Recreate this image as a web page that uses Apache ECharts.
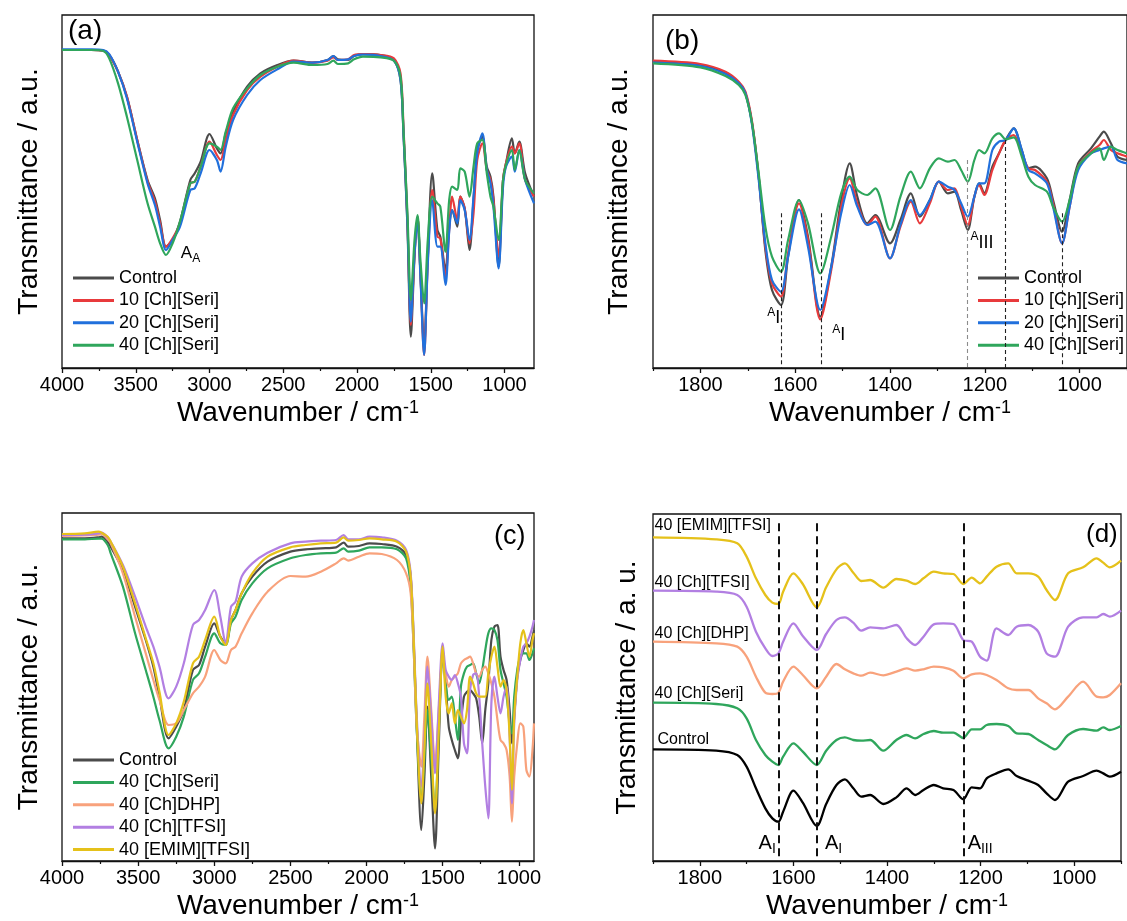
<!DOCTYPE html>
<html>
<head>
<meta charset="utf-8">
<title>FTIR spectra</title>
<script src="https://cdn.jsdelivr.net/npm/echarts@6/dist/echarts.min.js"></script>
<style>
  html, body { margin: 0; padding: 0; background: #fff; }
  #chart { width: 1127px; height: 921px; }
</style>
</head>
<body>
<div id="chart"></div>
<script>
// ---------- (a) full range, [Ch][Seri] loadings ----------
const waveA = [4000, 3800, 3720, 3680, 3620, 3560, 3490, 3420, 3370, 3335, 3295, 3250, 3200, 3130, 3100, 3060, 3000, 2950, 2925, 2890, 2840, 2745, 2655, 2540, 2430, 2300, 2200, 2160, 2130, 2060, 2020, 1960, 1840, 1750, 1705, 1685, 1658, 1635, 1610, 1590, 1570, 1545, 1520, 1490, 1455, 1435, 1400, 1375, 1355, 1320, 1300, 1270, 1237, 1210, 1185, 1150, 1120, 1095, 1075, 1040, 1010, 990, 950, 930, 900, 860, 800];
const aControl = [954, 954, 952, 939, 889, 814, 684, 564, 509, 444, 364, 384, 439, 564, 584, 619, 702, 659, 644, 704, 769, 844, 884, 909, 922, 916, 924, 936, 926, 924, 936, 942, 939, 924, 864, 704, 424, 94, 334, 454, 284, 64, 334, 584, 414, 394, 294, 424, 474, 424, 514, 479, 354, 504, 654, 694, 604, 574, 514, 304, 564, 614, 689, 644, 679, 584, 514];
const aSeri10 = [954, 954, 952, 939, 889, 814, 684, 559, 499, 434, 364, 389, 434, 554, 559, 604, 679, 639, 624, 684, 759, 834, 874, 904, 922, 916, 922, 932, 924, 926, 939, 942, 939, 929, 884, 724, 444, 129, 344, 454, 284, 39, 324, 534, 394, 389, 274, 414, 514, 444, 514, 479, 374, 464, 624, 674, 594, 564, 504, 334, 564, 614, 664, 644, 674, 564, 514];
const aSeri20 = [956, 956, 954, 942, 889, 809, 679, 554, 489, 424, 354, 384, 424, 534, 539, 584, 654, 624, 589, 664, 744, 819, 864, 896, 919, 916, 924, 936, 924, 926, 936, 940, 936, 922, 864, 704, 434, 139, 344, 444, 274, 39, 314, 504, 364, 364, 249, 409, 474, 434, 504, 474, 384, 514, 644, 704, 594, 554, 484, 299, 544, 604, 634, 589, 654, 564, 494];
const aSeri40 = [954, 954, 951, 929, 854, 754, 624, 494, 424, 374, 339, 374, 439, 554, 559, 604, 674, 664, 654, 709, 779, 839, 879, 904, 916, 909, 912, 922, 912, 914, 926, 934, 932, 922, 874, 714, 464, 204, 384, 459, 324, 194, 384, 514, 494, 484, 349, 504, 544, 534, 599, 589, 514, 604, 674, 684, 584, 514, 484, 384, 564, 609, 654, 594, 654, 564, 524];

// ---------- (b) amide region, [Ch][Seri] loadings ----------
const waveB = [1900, 1800, 1747, 1719, 1705, 1691, 1677, 1663, 1649, 1630, 1615, 1592, 1573, 1547, 1524, 1503, 1485, 1469, 1448, 1431, 1400, 1378, 1356, 1337, 1316, 1297, 1278, 1264, 1250, 1236, 1222, 1212, 1201, 1184, 1170, 1156, 1139, 1122, 1108, 1094, 1069, 1056, 1037, 1021, 1003, 976, 958, 949, 934, 920, 900];
const bControl = [919, 909, 884, 854, 824, 734, 574, 354, 234, 189, 334, 504, 394, 154, 304, 504, 614, 514, 434, 459, 374, 444, 524, 454, 504, 559, 524, 529, 474, 414, 514, 554, 524, 604, 644, 684, 719, 654, 599, 604, 569, 504, 409, 504, 614, 659, 694, 709, 674, 634, 624];
const bSeri10 = [922, 912, 889, 859, 829, 739, 574, 364, 254, 214, 344, 494, 384, 146, 294, 484, 569, 494, 429, 454, 329, 424, 499, 434, 494, 559, 534, 539, 484, 429, 514, 549, 519, 594, 644, 684, 699, 644, 599, 594, 559, 494, 374, 484, 604, 649, 669, 684, 654, 644, 634];
const bSeri20 = [916, 906, 882, 854, 824, 729, 564, 374, 264, 229, 334, 476, 364, 174, 304, 464, 549, 484, 429, 439, 329, 429, 504, 459, 504, 559, 544, 534, 494, 454, 514, 554, 554, 654, 679, 684, 719, 654, 594, 584, 554, 484, 374, 484, 594, 644, 654, 659, 664, 624, 614];
const bSeri40 = [914, 902, 876, 849, 819, 734, 584, 424, 334, 289, 384, 504, 434, 284, 394, 524, 574, 534, 519, 539, 414, 514, 589, 539, 599, 629, 619, 624, 594, 559, 624, 654, 644, 689, 704, 686, 692, 634, 574, 549, 529, 484, 439, 504, 604, 644, 659, 624, 664, 654, 644];
// band guides: wavenumber and the level each dashed guide starts from
const bBandWave = [1630, 1545, 1236, 1156, 1037];
const bBandTop = [464, 464, 624, 684, 464];

// ---------- (c) full range, different ionic liquids ----------
const waveC = [4000, 3850, 3760, 3740, 3700, 3680, 3600, 3520, 3450, 3400, 3360, 3300, 3250, 3200, 3140, 3100, 3060, 3000, 2960, 2925, 2890, 2860, 2820, 2750, 2650, 2500, 2400, 2300, 2200, 2150, 2120, 2050, 1980, 1900, 1800, 1740, 1710, 1690, 1670, 1640, 1620, 1600, 1575, 1550, 1525, 1500, 1480, 1460, 1440, 1420, 1400, 1380, 1360, 1340, 1320, 1300, 1280, 1260, 1240, 1220, 1200, 1180, 1160, 1140, 1120, 1100, 1080, 1060, 1045, 1030, 1010, 990, 970, 950, 930, 910, 900];
const cControl = [968, 968, 971, 973, 958, 943, 873, 763, 663, 583, 493, 368, 403, 453, 573, 588, 643, 713, 673, 653, 723, 753, 803, 853, 898, 928, 935, 938, 941, 955, 943, 945, 953, 951, 943, 918, 853, 653, 403, 93, 253, 463, 253, 38, 353, 633, 533, 403, 363, 333, 308, 413, 493, 508, 513, 503, 488, 433, 353, 453, 533, 663, 703, 708, 613, 573, 543, 453, 353, 433, 553, 603, 633, 653, 643, 673, 693];
const cSeri40 = [965, 965, 967, 967, 948, 923, 823, 683, 573, 493, 423, 338, 373, 433, 543, 563, 613, 683, 653, 648, 713, 733, 783, 833, 878, 908, 918, 923, 925, 938, 928, 931, 941, 941, 935, 908, 823, 633, 393, 183, 303, 453, 303, 153, 403, 613, 533, 483, 493, 433, 363, 523, 563, 583, 588, 593, 563, 533, 573, 633, 683, 698, 693, 663, 573, 533, 493, 413, 383, 493, 573, 613, 623, 623, 603, 623, 638];
const cDHP = [975, 977, 979, 981, 965, 953, 863, 733, 623, 543, 483, 408, 413, 453, 503, 523, 553, 633, 603, 593, 633, 643, 683, 743, 808, 855, 853, 868, 893, 908, 901, 913, 923, 921, 903, 863, 803, 633, 403, 283, 433, 613, 453, 293, 453, 613, 563, 523, 543, 553, 563, 593, 603, 608, 613, 593, 563, 553, 573, 583, 563, 533, 493, 423, 363, 353, 333, 253, 118, 253, 353, 413, 403, 273, 253, 333, 413];
const cTFSI = [978, 979, 983, 985, 971, 958, 888, 793, 703, 643, 583, 488, 523, 593, 708, 723, 753, 813, 733, 653, 763, 778, 853, 893, 925, 953, 958, 961, 963, 978, 965, 965, 973, 971, 961, 933, 863, 673, 433, 223, 363, 583, 433, 263, 473, 653, 573, 553, 543, 558, 533, 493, 353, 323, 513, 558, 563, 493, 353, 223, 128, 473, 553, 493, 443, 493, 523, 373, 173, 413, 543, 603, 643, 653, 673, 703, 723];
const cEMIM = [981, 983, 988, 985, 973, 958, 883, 773, 668, 593, 508, 378, 413, 478, 593, 613, 663, 733, 673, 648, 723, 753, 803, 863, 913, 941, 948, 953, 955, 971, 961, 963, 968, 965, 958, 928, 853, 663, 413, 173, 333, 533, 353, 143, 393, 643, 493, 443, 473, 413, 453, 433, 413, 453, 553, 533, 503, 493, 493, 493, 563, 613, 643, 583, 523, 543, 513, 373, 213, 433, 553, 653, 693, 653, 613, 663, 683];

// ---------- (d) amide region, stacked spectra ----------
const waveD = [1900, 1765, 1720, 1700, 1680, 1660, 1645, 1632, 1622, 1600, 1580, 1550, 1530, 1508, 1490, 1472, 1455, 1436, 1408, 1380, 1358, 1340, 1322, 1300, 1280, 1258, 1237, 1219, 1201, 1187, 1166, 1141, 1123, 1098, 1077, 1059, 1041, 1013, 981, 952, 938, 924, 900];
const dEMIM = [971, 965, 953, 913, 848, 798, 775, 771, 808, 863, 831, 761, 821, 875, 893, 865, 840, 843, 820, 846, 841, 831, 848, 868, 863, 861, 831, 850, 833, 853, 883, 893, 863, 863, 853, 813, 783, 863, 881, 908, 895, 881, 901];
const dTFSI = [811, 808, 798, 763, 688, 638, 615, 623, 658, 713, 675, 633, 681, 723, 731, 715, 691, 701, 698, 708, 668, 648, 673, 710, 713, 711, 663, 658, 613, 601, 698, 678, 703, 708, 688, 623, 613, 703, 731, 731, 741, 733, 751];
const dDHP = [658, 653, 643, 613, 553, 505, 501, 505, 538, 583, 558, 518, 553, 591, 575, 563, 556, 565, 557, 568, 578, 571, 575, 583, 581, 571, 548, 560, 563, 558, 543, 518, 513, 513, 488, 473, 455, 493, 538, 493, 491, 498, 533];
const dSeri = [475, 471, 458, 428, 363, 318, 298, 288, 313, 353, 328, 288, 331, 363, 371, 363, 361, 363, 331, 363, 378, 368, 381, 390, 385, 385, 369, 395, 395, 408, 411, 405, 383, 381, 363, 348, 335, 378, 396, 391, 401, 393, 405];
const dControl = [335, 331, 318, 283, 218, 158, 128, 118, 148, 211, 175, 105, 171, 228, 245, 218, 193, 198, 171, 191, 218, 198, 213, 228, 218, 213, 185, 221, 218, 248, 263, 275, 255, 241, 228, 203, 183, 238, 255, 271, 263, 253, 268];
const dBandWave = [1631, 1550, 1237];

// ---------- tick labels ----------
const ticksWide = [4000, 3500, 3000, 2500, 2000, 1500, 1000];
const ticksWideMinor = [3750, 3250, 2750, 2250, 1750, 1250];
const ticksNarrow = [1800, 1600, 1400, 1200, 1000];
const ticksNarrowMinor = [1900, 1700, 1500, 1300, 1100, 900];

// ---------- styling ----------
const FONT = "'Liberation Sans', Arial, Helvetica, sans-serif";
const INK = '#111';
const C = {
  control: '#4b4b4b', seri10: '#e83a3c', seri20: '#2170dc', seri40: '#2fa65c',
  dhp: '#f8a27c', tfsi: '#b27fe2', emim: '#e5c11a', black: '#000'
};
const NAME = {
  control: 'Control', seri10: '10 [Ch][Seri]', seri20: '20 [Ch][Seri]', seri40: '40 [Ch][Seri]',
  dhp: '40 [Ch]DHP]', tfsi: '40 [Ch][TFSI]', emim: '40 [EMIM][TFSI]'
};

function xPair(gi, min, max, major, minor, gap) {
  const base = { gridIndex: gi, type: 'value', min, max, inverse: true, position: 'bottom', splitLine: { show: false } };
  return [
    Object.assign({}, base, {
      axisLine: { show: true, onZero: false, lineStyle: { color: INK, width: 1.3 } },
      axisTick: { show: true, customValues: major, length: 5, lineStyle: { color: INK, width: 1.3 } },
      axisLabel: {
        show: true, customValues: major, fontSize: 20, color: '#000', fontFamily: FONT, margin: 7,
        formatter: v => String(v)
      },
      name: '{n|Wavenumber / cm}{s|-1}', nameLocation: 'middle', nameGap: gap,
      nameTextStyle: {
        color: '#000', fontFamily: FONT, fontSize: 28,
        rich: {
          n: { fontSize: 28, fontFamily: FONT, color: '#000' },
          s: { fontSize: 18, fontFamily: FONT, color: '#000', verticalAlign: 'top' }
        }
      }
    }),
    Object.assign({}, base, {
      axisLine: { show: false },
      axisTick: { show: true, customValues: minor, length: 3, lineStyle: { color: INK, width: 1.2 } },
      axisLabel: { show: false }
    })
  ];
}

function yAx(gi, max, name, gap) {
  return {
    gridIndex: gi, type: 'value', min: 0, max,
    axisLine: { show: false }, axisTick: { show: false }, axisLabel: { show: false }, splitLine: { show: false },
    name, nameLocation: 'middle', nameGap: gap,
    nameTextStyle: { fontSize: 28, color: '#000', fontFamily: FONT }
  };
}

function spectrum(name, gi, waves, vals, color, width, extra) {
  return Object.assign({
    type: 'line', name, xAxisIndex: gi * 2, yAxisIndex: gi,
    data: waves.map((w, i) => [w, vals[i]]),
    symbol: 'none', showSymbol: false, smooth: 0.3,
    lineStyle: { color, width }, itemStyle: { color },
    emphasis: { disabled: true }, silent: true
  }, extra || {});
}

const ink = { fontFamily: FONT, color: '#000' };
const richBig = {
  m: Object.assign({ fontSize: 20, lineHeight: 24 }, ink),
  s: Object.assign({ fontSize: 14, lineHeight: 14, verticalAlign: 'bottom' }, ink)
};
const richA = {
  m: Object.assign({ fontSize: 17, lineHeight: 22 }, ink),
  s: Object.assign({ fontSize: 12, lineHeight: 12, verticalAlign: 'bottom' }, ink)
};
const richSmallA = {
  a: Object.assign({ fontSize: 12, lineHeight: 12, verticalAlign: 'top' }, ink),
  i: Object.assign({ fontSize: 18, lineHeight: 24 }, ink)
};

function tags(items) {
  return {
    symbol: 'circle', symbolSize: 1, silent: true, animation: false,
    itemStyle: { color: 'rgba(0,0,0,0)' },
    label: { show: true, color: '#000', fontFamily: FONT },
    data: items.map(t => ({
      coord: t.coord, value: 0,
      label: Object.assign({ show: true, formatter: t.text, position: t.position || 'inside' },
        t.rich ? { rich: t.rich } : {}, t.style || {})
    }))
  };
}

const legendBase = {
  orient: 'vertical', icon: 'rect', itemWidth: 41, itemHeight: 3, itemGap: 4.4, padding: 0,
  selectedMode: false,
  textStyle: { fontSize: 18, color: '#000', fontFamily: FONT, lineHeight: 18 }
};
const gridBase = { show: true, borderColor: INK, borderWidth: 1.3, backgroundColor: 'transparent', containLabel: false };

const series = [
  // (a)
  spectrum(NAME.control, 0, waveA, aControl, C.control, 2.2, {
    markPoint: tags([{ coord: [3129, 344], text: '{m|A}{s|A}', rich: richA }])
  }),
  spectrum(NAME.seri10, 0, waveA, aSeri10, C.seri10, 2.2),
  spectrum(NAME.seri20, 0, waveA, aSeri20, C.seri20, 2.2),
  spectrum(NAME.seri40, 0, waveA, aSeri40, C.seri40, 2.2),
  // (b)
  spectrum(NAME.control, 1, waveB, bControl, C.control, 2.2, {
    markLine: {
      silent: true, symbol: ['none', 'none'], label: { show: false }, animation: false,
      data: bBandWave.map((w, i) => [
        { coord: [w, bBandTop[i]], lineStyle: { color: i === 2 ? '#8c8c8c' : '#222', width: 1.1, type: [4, 3] } },
        { coord: [w, 0] }
      ])
    },
    markPoint: tags([
      { coord: [1645, 149], text: '{a|A}{i|I}', rich: richSmallA },
      { coord: [1508, 98], text: '{a|A}{i|I}', rich: richSmallA },
      { coord: [1206, 376], text: '{a|A}{i|III}', rich: richSmallA }
    ])
  }),
  spectrum(NAME.seri10, 1, waveB, bSeri10, C.seri10, 2.2),
  spectrum(NAME.seri20, 1, waveB, bSeri20, C.seri20, 2.2),
  spectrum(NAME.seri40, 1, waveB, bSeri40, C.seri40, 2.2),
  // (c)
  spectrum(NAME.control, 2, waveC, cControl, C.control, 2.2),
  spectrum(NAME.seri40, 2, waveC, cSeri40, C.seri40, 2.2),
  spectrum(NAME.dhp, 2, waveC, cDHP, C.dhp, 2.2),
  spectrum(NAME.tfsi, 2, waveC, cTFSI, C.tfsi, 2.2),
  spectrum(NAME.emim, 2, waveC, cEMIM, C.emim, 2.2),
  // (d) stacked
  spectrum('Control', 3, waveD, dControl, C.black, 2.3, {
    markLine: {
      silent: true, symbol: ['none', 'none'], label: { show: false }, animation: false,
      lineStyle: { color: '#111', width: 2, type: [8, 5] },
      data: dBandWave.map(w => [{ coord: [w, 1013] }, { coord: [w, 0] }])
    },
    markPoint: tags([
      { coord: [1656, 52], text: '{m|A}{s|I}', rich: richBig },
      { coord: [1514, 52], text: '{m|A}{s|I}', rich: richBig },
      { coord: [1201, 52], text: '{m|A}{s|III}', rich: richBig },
      { coord: [1900, 365], text: 'Control', position: 'right', style: { distance: 4, fontSize: 16 } },
      { coord: [1900, 503], text: '40 [Ch][Seri]', position: 'right', style: { distance: 1, fontSize: 16 } },
      { coord: [1900, 683], text: '40 [Ch][DHP]', position: 'right', style: { distance: 1, fontSize: 16 } },
      { coord: [1900, 835], text: '40 [Ch][TFSI]', position: 'right', style: { distance: 1, fontSize: 16 } },
      { coord: [1900, 1005], text: '40 [EMIM][TFSI]', position: 'right', style: { distance: 1, fontSize: 16 } }
    ])
  }),
  spectrum('Seri (stacked)', 3, waveD, dSeri, C.seri40, 2.3),
  spectrum('DHP (stacked)', 3, waveD, dDHP, C.dhp, 2.3),
  spectrum('TFSI (stacked)', 3, waveD, dTFSI, C.tfsi, 2.3),
  spectrum('EMIM (stacked)', 3, waveD, dEMIM, C.emim, 2.3)
];

const option = {
  animation: false,
  backgroundColor: '#fff',
  textStyle: { fontFamily: FONT },
  grid: [
    Object.assign({ left: 62, top: 15, width: 472, height: 353 }, gridBase),
    Object.assign({ left: 653, top: 15, width: 480, height: 353 }, gridBase),
    Object.assign({ left: 62, top: 513, width: 472, height: 348 }, gridBase),
    Object.assign({ left: 653, top: 514, width: 468, height: 347 }, gridBase)
  ],
  xAxis: [].concat(
    xPair(0, 800, 4000, ticksWide, ticksWideMinor, 31),
    xPair(1, 900, 1900, ticksNarrow, ticksNarrowMinor, 31),
    xPair(2, 900, 4000, ticksWide, ticksWideMinor, 31),
    xPair(3, 900, 1900, ticksNarrow, ticksNarrowMinor, 31)
  ),
  yAxis: [
    yAx(0, 1059, 'Transmittance / a.u.', 19),
    yAx(1, 1059, 'Transmittance / a.u.', 20),
    yAx(2, 1044, 'Transmittance / a.u.', 19),
    yAx(3, 1041, 'Transmittance / a. u.', 12)
  ],
  legend: [
    Object.assign({ left: 73, top: 269, data: [NAME.control, NAME.seri10, NAME.seri20, NAME.seri40] }, legendBase),
    Object.assign({ left: 978, top: 269, data: [NAME.control, NAME.seri10, NAME.seri20, NAME.seri40] }, legendBase),
    Object.assign({ left: 73, top: 751, data: [NAME.control, NAME.seri40, NAME.dhp, NAME.tfsi, NAME.emim] }, legendBase)
  ],
  graphic: [
    { type: 'text', left: 68, top: 17, style: { text: '(a)', fontSize: 28, fontFamily: FONT, fill: '#000' } },
    { type: 'text', left: 665, top: 27, style: { text: '(b)', fontSize: 28, fontFamily: FONT, fill: '#000' } },
    { type: 'text', left: 494, top: 523, style: { text: '(c)', fontSize: 27, fontFamily: FONT, fill: '#000' } },
    { type: 'text', left: 1086, top: 522, style: { text: '(d)', fontSize: 26, fontFamily: FONT, fill: '#000' } }
  ],
  series
};

const chart = echarts.init(document.getElementById('chart'), null, { renderer: 'canvas' });
chart.setOption(option);
</script>
</body>
</html>
